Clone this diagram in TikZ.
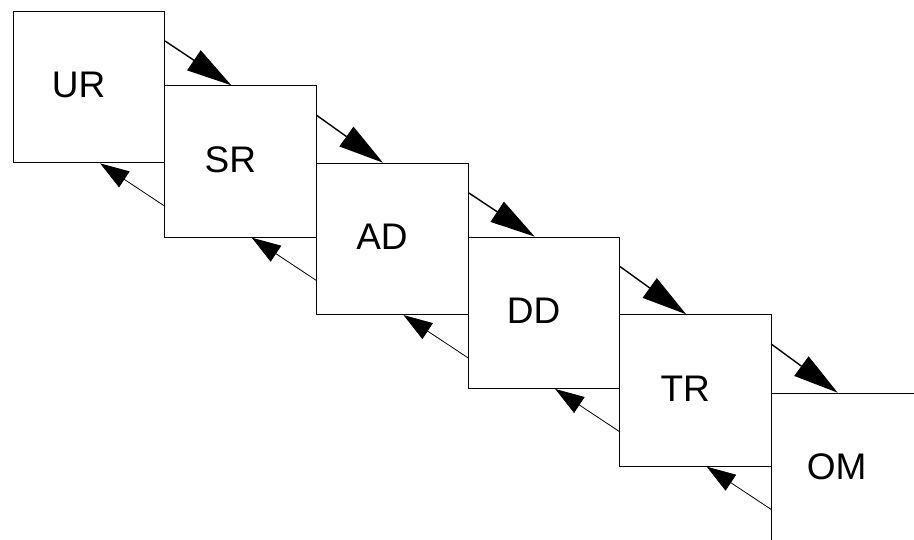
\documentclass[tikz,border=0pt]{standalone}
\usepackage{fontspec}
\setmainfont{Liberation Sans}
\usetikzlibrary{calc,arrows.meta}
\begin{document}
\begin{tikzpicture}[x=1pt,y=-1pt,
  box/.style={draw=black,line width=0.9pt,minimum width=151.5pt,minimum height=151.5pt,inner sep=0pt,anchor=north west},
  lbl/.style={font=\fontsize{37}{40}\selectfont},
  fwd/.style={line width=1.4pt,-{Triangle[length=45pt,width=24pt]}},
  bwd/.style={line width=0.8pt,-{Triangle[length=29pt,width=19pt]}}]
\useasboundingbox (0,0) rectangle (914,540);
\clip (0,0) rectangle (914,540);
\node[box] (UR) at (12.7,11) {};
\node[box] (SR) at (164.3,85.3) {};
\node[box] (AD) at (316,162.7) {};
\node[box] (DD) at (467.7,236.6) {};
\node[box] (TR) at (619.2,314.3) {};
\node[box] (OM) at (770.7,392.7) {};
\foreach \b/\t in {UR/UR,SR/SR,AD/AD,DD/DD,TR/TR,OM/OM}
  \node[lbl] (\b-l) at ($(\b.north west)+(66,74)$) {\t};
\foreach \a/\b in {UR/SR,SR/AD,AD/DD,DD/TR,TR/OM}{
  \draw[fwd] ($(\a.north east)+(0,30)$) -- ($(\b.north west)+(67,0)$);
  \draw[bwd] ($(\a.south east)+(0,43)$) -- ($(\a.south west)+(87.5,0)$);
}
\end{tikzpicture}
\end{document}
